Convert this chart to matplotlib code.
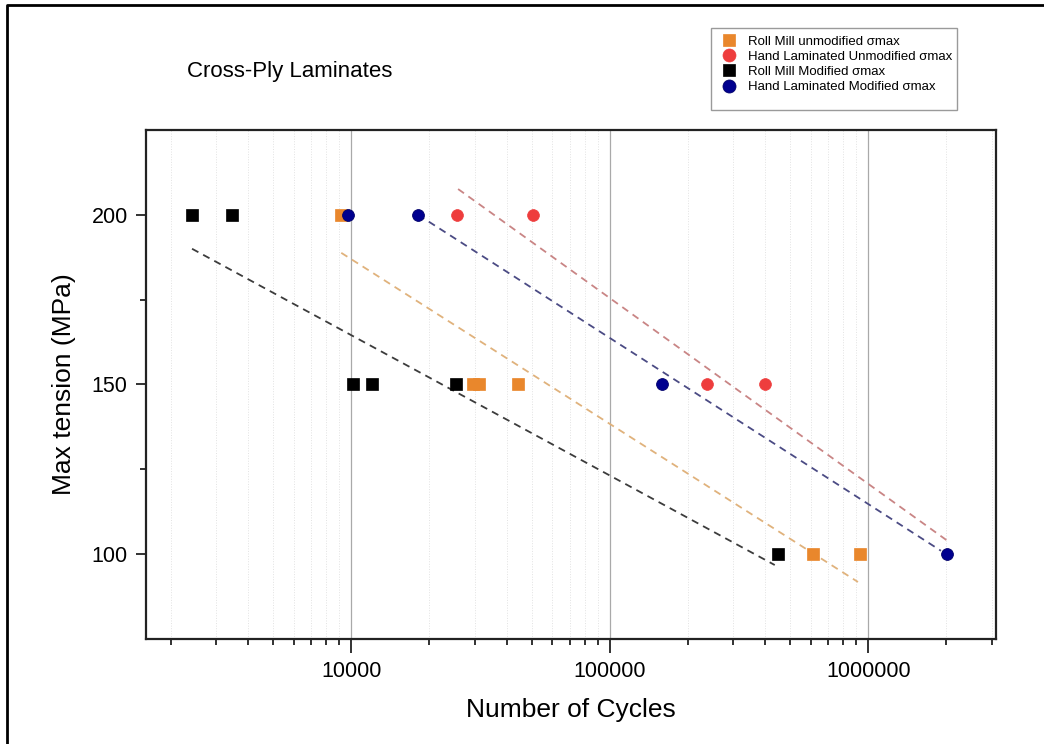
import matplotlib
matplotlib.use("Agg")
import matplotlib.pyplot as plt
from matplotlib.lines import Line2D
from matplotlib.patches import Rectangle
from matplotlib.ticker import LogLocator, FixedLocator, NullFormatter, FuncFormatter

plt.rcParams['font.family'] = ['Liberation Sans', 'DejaVu Sans']

# ---- data ----
rm_unmod_N = [9100, 29500, 31200, 44300, 613000, 930000]
rm_unmod_S = [200, 150, 150, 150, 100, 100]

hl_unmod_N = [25600, 50600, 238600, 397000]
hl_unmod_S = [200, 200, 150, 150]

rm_mod_N = [2425, 3460, 10200, 12000, 25400, 445700]
rm_mod_S = [200, 200, 150, 150, 150, 100]

hl_mod_N = [9680, 18150, 158800, 2010000]
hl_mod_S = [200, 200, 150, 100]

# fitted trend lines (end points)
fit_rm_unmod_N = [9150, 912000]
fit_rm_unmod_S = [188.8, 91.8]
fit_hl_unmod_N = [25900, 2010000]
fit_hl_unmod_S = [207.6, 104.1]
fit_rm_mod_N = [2422, 434600]
fit_rm_mod_S = [190.0, 96.8]
fit_hl_mod_N = [18150, 1910000]
fit_hl_mod_S = [200.0, 101.0]

labels = ["Roll Mill unmodified \u03c3max", "Hand Laminated Unmodified \u03c3max",
          "Roll Mill Modified \u03c3max", "Hand Laminated Modified \u03c3max"]
x_ticks = [10000, 100000, 1000000]
y_ticks = [100, 150, 200]

# ---- figure ----
W, H = 1044, 744
fig = plt.figure(figsize=(W / 100, H / 100), dpi=100)
ax = fig.add_axes([145.7 / W, 1 - 639 / H, (995.7 - 145.7) / W, (639 - 130) / H])

ax.set_xscale('log')
ax.set_xlim(1603, 3.11e6)
ax.set_ylim(75, 225)

# grids
ax.xaxis.set_minor_locator(LogLocator(base=10, subs=[2, 3, 4, 5, 6, 7, 8, 9]))
ax.xaxis.set_major_locator(FixedLocator(x_ticks))
ax.xaxis.set_major_formatter(FuncFormatter(lambda v, p: f"{int(round(v))}"))
ax.xaxis.set_minor_formatter(NullFormatter())
ax.grid(True, which='major', axis='x', color='#a9a9a9', lw=0.9, ls='-', zorder=0)
ax.grid(True, which='minor', axis='x', color='#e2e2e2', lw=0.7, ls=':', zorder=0)

ax.yaxis.set_major_locator(FixedLocator(y_ticks))
ax.yaxis.set_minor_locator(FixedLocator([125, 175]))

ax.tick_params(axis='both', which='major', direction='out', length=7, width=1.3,
               labelsize=15.5, pad=6, color='#222222')
ax.tick_params(axis='x', which='major', length=10)
ax.tick_params(axis='both', which='minor', direction='out', length=4, width=1.3, color='#222222')
for s in ax.spines.values():
    s.set_linewidth(1.6)
    s.set_color('#222222')

# trend lines
ax.plot(fit_rm_mod_N, fit_rm_mod_S, color='#3c3c3c', lw=1.3, dashes=(4, 3), zorder=2)
ax.plot(fit_rm_unmod_N, fit_rm_unmod_S, color='#e0b27c', lw=1.3, dashes=(4, 3), zorder=2)
ax.plot(fit_hl_mod_N, fit_hl_mod_S, color='#4b4b84', lw=1.3, dashes=(4, 3), zorder=2)
ax.plot(fit_hl_unmod_N, fit_hl_unmod_S, color='#c98585', lw=1.3, dashes=(4, 3), zorder=2)

# data points
h1, = ax.plot(rm_unmod_N, rm_unmod_S, 's', ms=8.3, color='#e9872c', mec='#e9872c', mew=0.5,
              ls='none', label=labels[0], zorder=3)
h2, = ax.plot(hl_unmod_N, hl_unmod_S, 'o', ms=8.5, color='#ee3d3d', mec='#ee3d3d', mew=0.5,
              ls='none', label=labels[1], zorder=3)
h3, = ax.plot(rm_mod_N, rm_mod_S, 's', ms=8.3, color='#000000', mec='#000000', mew=0.5,
              ls='none', label=labels[2], zorder=4)
h4, = ax.plot(hl_mod_N, hl_mod_S, 'o', ms=8.5, color='#00008f', mec='#00006a', mew=0.6,
              ls='none', label=labels[3], zorder=5)

ax.set_xlabel("Number of Cycles", fontsize=19, labelpad=11)
ax.set_ylabel("Max tension (MPa)", fontsize=19, labelpad=11)

# title
fig.text(187 / W, 1 - 77 / H, "Cross-Ply Laminates", fontsize=16, ha='left', va='baseline')

# legend
leg = fig.legend(handles=[h1, h2, h3, h4], loc='upper left',
                 bbox_to_anchor=(716 / W, 1 - 29 / H), frameon=False,
                 fontsize=9.5, labelspacing=0.22, handlelength=1.0, handletextpad=0.9,
                 borderpad=0.0, markerscale=1.1)
fig.add_artist(Rectangle((711 / W, 1 - 110 / H), (957 - 711) / W, (110 - 28) / H,
                         transform=fig.transFigure, fill=False, ec='#9a9a9a', lw=1.0))

# figure border (top and left visible)
fig.add_artist(Line2D([7 / W, 7 / W, 1.01], [-0.01, 1 - 5 / H, 1 - 5 / H],
                      transform=fig.transFigure, color='black', lw=2.0))

fig.savefig("out.png", dpi=100)
